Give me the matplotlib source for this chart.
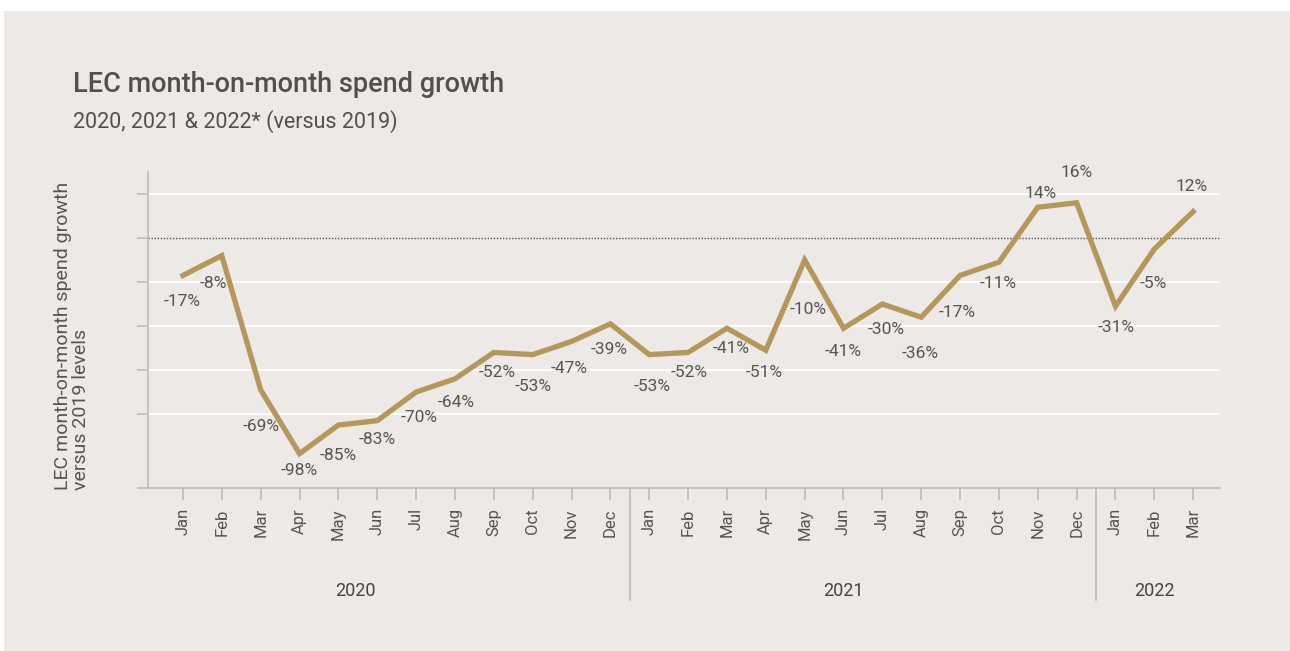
import matplotlib
matplotlib.use("Agg")
import matplotlib.pyplot as plt
from matplotlib.patches import Rectangle

plt.rcParams['font.family'] = ['Roboto', 'DejaVu Sans']

months = ["Jan", "Feb", "Mar", "Apr", "May", "Jun", "Jul", "Aug", "Sep", "Oct", "Nov", "Dec",
          "Jan", "Feb", "Mar", "Apr", "May", "Jun", "Jul", "Aug", "Sep", "Oct", "Nov", "Dec",
          "Jan", "Feb", "Mar"]
growth = [-17, -8, -69, -98, -85, -83, -70, -64, -52, -53, -47, -39,
          -53, -52, -41, -51, -10, -41, -30, -36, -17, -11, 14, 16,
          -31, -5, 12]
years = ["2020", "2021", "2022"]

# label offsets (pixels) relative to each point: layout only
label_dx = [-1, -9, 0, 0, 0, 0, 3, 1, 3, 0, -2, -1,
            3, 1, 4, -2, 3, 0, 4, -1, -3, -1, 3, 0, 1, -1, -2]
label_dy = [-26, -28, -37, -17, -30, -19, -25, -24, -20, -32, -27, -26,
            -32, -20, -20, -22, -49, -23, -25, -36, -37, -21, 14, 30, -21, -34, 25]

BG = "#ece9e6"
GOLD = "#b5975a"
TXT = "#555555"
AX = "#bcbcbc"

fig = plt.figure(figsize=(12.9, 6.51), dpi=100)
fig.patch.set_facecolor("white")
fig.add_artist(Rectangle((4 / 1290, 0), 1 - 4 / 1290, 1 - 11 / 651,
                         transform=fig.transFigure, facecolor=BG, edgecolor="none", zorder=-10))

ax = fig.add_axes([148 / 1290, 1 - 488 / 651, (1220 - 148) / 1290, (488 - 172) / 651])
ax.set_facecolor(BG)
ax.patch.set_alpha(0)

x = list(range(len(growth)))
ax.plot(x, growth, color=GOLD, lw=3.8, solid_joinstyle="miter", zorder=3)

ymin, ymax = -113.6, 30
ax.set_ylim(ymin, ymax)
ax.set_xlim(-0.9, 26.69)

for g in [20, -20, -40, -60, -80]:
    ax.axhline(g, color="white", lw=1.3, zorder=1)
ax.axhline(0, color="#555555", lw=1.0, ls=(0, (1, 1.2)), zorder=2)

ax.set_yticks([20, 0, -20, -40, -60, -80, ymin])
ax.set_yticklabels([])
ax.tick_params(axis="y", length=8, color=AX, width=1.2)
ax.set_xticks(x)
ax.set_xticklabels(months, rotation=90, fontsize=12, color=TXT)
ax.tick_params(axis="x", length=8.5, color=AX, width=1.2, pad=6)

for s in ["top", "right"]:
    ax.spines[s].set_visible(False)
for s in ["left", "bottom"]:
    ax.spines[s].set_color(AX)
    ax.spines[s].set_linewidth(1.2)

for xi, v, dx, dy in zip(x, growth, label_dx, label_dy):
    ax.annotate(f"{v}%", (xi, v), xytext=(dx, dy), textcoords="offset pixels",
                ha="center", va="center", fontsize=12.5, color=TXT, zorder=4)

# year separators and labels
for sx in [11.5, 23.5]:
    ax.plot([sx, sx], [0, -0.354], transform=ax.get_xaxis_transform(),
            color=AX, lw=1.2, clip_on=False)
for yx, yl in zip([4.43, 17.0, 25.0], years):
    ax.text(yx, -0.325, yl, transform=ax.get_xaxis_transform(), ha="center", va="center",
            fontsize=13, color="#444444")

fig.text(73 / 1290, 1 - 92 / 651, "LEC month-on-month spend growth", fontsize=19.5,
         fontweight="medium", color="#505050", va="baseline")
fig.text(73 / 1290, 1 - 128 / 651, "2020, 2021 & 2022* (versus 2019)", fontsize=15.5,
         color="#505050", va="baseline")
fig.text(72 / 1290, 1 - 490 / 651, "LEC month-on-month spend growth\nversus 2019 levels",
         rotation=90, fontsize=14, color=TXT, ha="left", va="center",
         multialignment="left", linespacing=1.05, rotation_mode="anchor")

fig.savefig("out.png", dpi=100)
